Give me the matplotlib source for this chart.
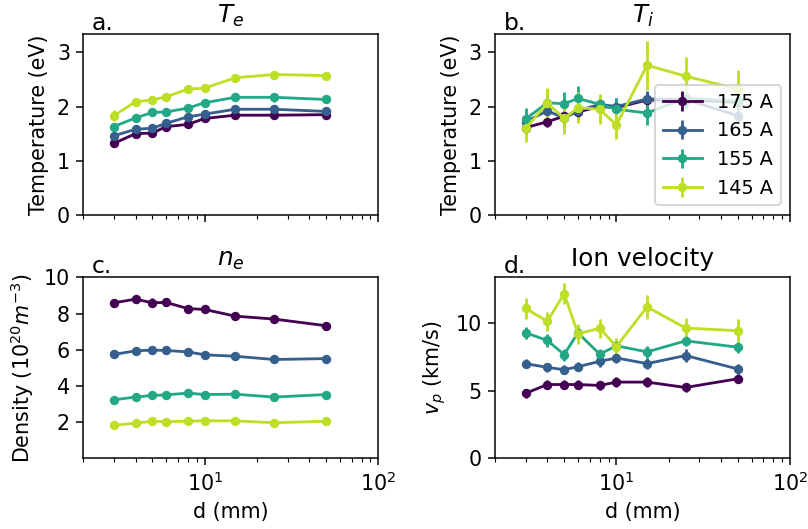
import numpy as np
import matplotlib
matplotlib.use('Agg')
import matplotlib.pyplot as plt

plt.rcParams['font.size'] = 11

# distance from source (mm)
d = [3, 4, 5, 6, 8, 10, 15, 25, 50]
labels = ['175 A', '165 A', '155 A', '145 A']
colors = plt.cm.viridis(np.linspace(0, 0.9, 4))

# electron temperature (eV)
te = [
    [1.32, 1.50, 1.51, 1.63, 1.67, 1.78, 1.84, 1.84, 1.85],
    [1.46, 1.58, 1.60, 1.69, 1.81, 1.86, 1.95, 1.95, 1.91],
    [1.63, 1.79, 1.89, 1.90, 1.97, 2.07, 2.17, 2.17, 2.13],
    [1.83, 2.09, 2.12, 2.18, 2.32, 2.34, 2.53, 2.59, 2.57],
]
te_err = [
    [0.05, 0.04, 0.04, 0.04, 0.04, 0.04, 0.04, 0.04, 0.04],
    [0.05, 0.05, 0.05, 0.05, 0.05, 0.05, 0.05, 0.05, 0.05],
    [0.06, 0.05, 0.05, 0.05, 0.05, 0.05, 0.05, 0.08, 0.05],
    [0.10, 0.05, 0.05, 0.05, 0.06, 0.05, 0.05, 0.05, 0.05],
]

# ion temperature (eV)
ti = [
    [1.61, 1.72, 1.82, 1.90, 2.00, 1.98, 2.12, 2.12, 2.08],
    [1.72, 1.92, 1.79, 1.92, 2.04, 2.00, 2.14, 2.13, 1.83],
    [1.77, 2.07, 2.05, 2.15, 2.04, 1.95, 1.88, 2.15, 2.10],
    [1.60, 2.06, 1.78, 1.98, 1.95, 1.66, 2.76, 2.56, 2.32],
]
ti_err = [
    [0.10, 0.10, 0.12, 0.12, 0.12, 0.12, 0.15, 0.15, 0.15],
    [0.12, 0.15, 0.15, 0.15, 0.15, 0.15, 0.15, 0.15, 0.12],
    [0.20, 0.18, 0.22, 0.22, 0.18, 0.20, 0.22, 0.20, 0.20],
    [0.25, 0.28, 0.28, 0.28, 0.28, 0.25, 0.45, 0.36, 0.35],
]

# electron density (1e20 m^-3)
ne = [
    [8.60, 8.80, 8.60, 8.62, 8.28, 8.23, 7.86, 7.70, 7.33],
    [5.74, 5.94, 5.98, 5.96, 5.88, 5.72, 5.64, 5.46, 5.51],
    [3.23, 3.38, 3.47, 3.50, 3.60, 3.52, 3.54, 3.38, 3.52],
    [1.81, 1.94, 2.04, 2.02, 2.04, 2.07, 2.06, 1.96, 2.04],
]
ne_err = [
    [0.20, 0.10, 0.25, 0.20, 0.12, 0.10, 0.10, 0.10, 0.10],
    [0.10, 0.10, 0.10, 0.10, 0.10, 0.10, 0.10, 0.10, 0.10],
    [0.10, 0.10, 0.10, 0.10, 0.10, 0.10, 0.10, 0.10, 0.10],
    [0.08, 0.08, 0.08, 0.08, 0.08, 0.08, 0.08, 0.08, 0.08],
]

# ion velocity (km/s)
vp = [
    [4.81, 5.46, 5.46, 5.46, 5.39, 5.64, 5.64, 5.24, 5.89],
    [7.01, 6.73, 6.56, 6.78, 7.18, 7.43, 7.01, 7.61, 6.61],
    [9.30, 8.73, 7.68, 9.30, 7.71, 8.33, 7.88, 8.70, 8.23],
    [11.10, 10.15, 12.20, 9.23, 9.63, 8.28, 11.22, 9.65, 9.45],
]
vp_err = [
    [0.35, 0.35, 0.35, 0.35, 0.35, 0.35, 0.35, 0.35, 0.35],
    [0.35, 0.35, 0.35, 0.35, 0.40, 0.40, 0.40, 0.50, 0.35],
    [0.45, 0.45, 0.45, 0.50, 0.40, 0.40, 0.45, 0.40, 0.40],
    [0.80, 0.70, 0.80, 0.75, 0.70, 0.60, 0.90, 0.75, 0.85],
]

fig, axes = plt.subplots(2, 2, figsize=(808 / 135, 529 / 135), dpi=135)
fig.subplots_adjust(left=0.103, right=0.978, top=0.935, bottom=0.134,
                    wspace=0.395, hspace=0.346)

panels = [
    (axes[0, 0], te, te_err, '$T_e$', 'Temperature (eV)', 'a.'),
    (axes[0, 1], ti, ti_err, '$T_i$', 'Temperature (eV)', 'b.'),
    (axes[1, 0], ne, ne_err, '$n_e$', r'Density ($10^{20} m^{-3}$)', 'c.'),
    (axes[1, 1], vp, vp_err, 'Ion velocity', '$v_p$ (km/s)', 'd.'),
]

for ax, vals, errs, title, ylabel, tag in panels:
    for i in range(4):
        ax.errorbar(d, vals[i], yerr=errs[i], color=colors[i], marker='o',
                    markersize=4, linewidth=1.5, elinewidth=1.5,
                    label=labels[i])
    ax.set_xscale('log')
    ax.set_xlim(2, 100)
    ax.set_title(title)
    ax.set_ylabel(ylabel)
    ax.text(0.03, 1.025, tag, transform=ax.transAxes, fontsize=12.5)

for ax in axes[0]:
    ax.set_ylim(0, 3.33)
    ax.set_yticks([0, 1, 2, 3])
    ax.tick_params(labelbottom=False)

axes[1, 0].set_ylim(0, 10)
axes[1, 0].set_yticks([2, 4, 6, 8, 10])
axes[1, 1].set_ylim(0, 13.4)
axes[1, 1].set_yticks([0, 5, 10])

for ax in axes[1]:
    ax.set_xlabel('d (mm)')

axes[0, 1].legend(loc='lower right', fontsize=10.3)

fig.savefig('out.png', dpi=135)
